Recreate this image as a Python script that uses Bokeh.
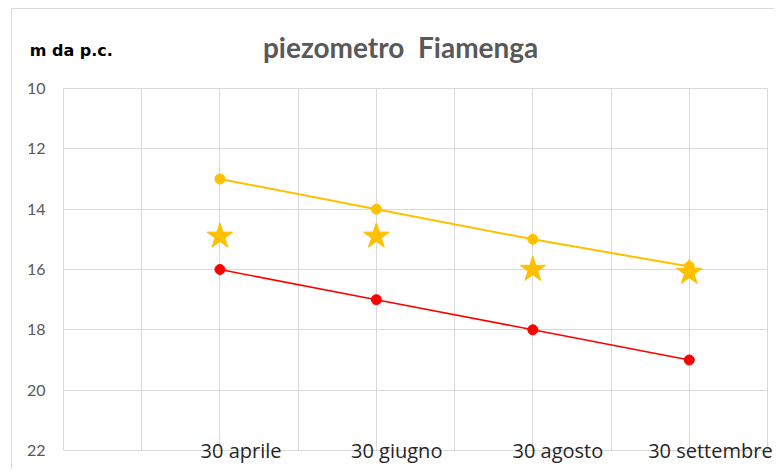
from bokeh.plotting import figure
from bokeh.models import Range1d, FixedTicker, LinearAxis
from bokeh.embed import file_html
from bokeh.resources import INLINE

# ---- data ----
dates = ["30 aprile", "30 giugno", "30 agosto", "30 settembre"]
x_pos = [2, 4, 6, 8]
yellow_vals = [13.0, 14.0, 15.0, 15.9]
star_vals = [14.9, 14.9, 16.0, 16.1]
red_vals = [16.0, 17.0, 18.0, 19.0]
y_ticks = [10, 12, 14, 16, 18, 20, 22]
title_text = "piezometro\u00a0 Fiamenga"
unit_text = "m da p.c."

YELLOW = "#FFC000"
RED = "#FF0000"
GRID = "#d9d9d9"

p = figure(width=763, height=461, output_backend="svg", toolbar_location=None,
           x_range=Range1d(0, 9), y_range=Range1d(22, 10),
           min_border_left=51, min_border_right=8, min_border_top=79, min_border_bottom=20)
p.styles = {"border-top": "1px solid #d9d9d9", "border-left": "1px solid #d9d9d9",
            "margin-left": "11px", "margin-top": "8px"}
p.background_fill_color = "white"
p.border_fill_color = "white"
p.outline_line_color = GRID


def bare(ax):
    ax.axis_line_color = None
    ax.major_tick_line_color = None
    ax.minor_tick_line_color = None
    ax.major_tick_out = 0
    ax.major_tick_in = 0


# x axis: category labels, shifted right of the points as in the reference
label_shift = [0.27, 0.26, 0.32, 0.27]
label_ticks = [x + s for x, s in zip(x_pos, label_shift)]
p.xaxis.ticker = FixedTicker(ticks=label_ticks)
p.xaxis.major_label_overrides = {t: d for t, d in zip(label_ticks, dates)}
bare(p.xaxis[0])
p.xaxis.major_label_standoff = -14
p.xaxis.major_label_text_font = "Open Sans"
p.xaxis.major_label_text_font_size = "20px"
p.xaxis.major_label_text_color = "#262626"

# top axes used for the unit label and the title
unit_tick = 0.10
title_tick = 4.31
ax_unit = LinearAxis(ticker=FixedTicker(ticks=[unit_tick]),
                     major_label_overrides={unit_tick: unit_text})
bare(ax_unit)
ax_unit.major_label_standoff = 29
ax_unit.major_label_text_font = "DejaVu Sans"
ax_unit.major_label_text_font_style = "bold"
ax_unit.major_label_text_font_size = "16px"
ax_unit.major_label_text_color = "#000000"
p.add_layout(ax_unit, "above")

ax_title = LinearAxis(ticker=FixedTicker(ticks=[title_tick]),
                      major_label_overrides={title_tick: title_text})
bare(ax_title)
ax_title.major_label_standoff = -26
ax_title.major_label_text_font = "Lato"
ax_title.major_label_text_font_style = "bold"
ax_title.major_label_text_font_size = "28px"
ax_title.major_label_text_color = "#595959"
p.add_layout(ax_title, "above")

p.xgrid.ticker = FixedTicker(ticks=list(range(0, 10)))
p.xgrid.grid_line_color = GRID
p.yaxis.ticker = FixedTicker(ticks=y_ticks)
p.ygrid.grid_line_color = GRID
bare(p.yaxis[0])
p.yaxis.major_label_standoff = 18
p.yaxis.major_label_text_color = "#595959"
p.yaxis.major_label_text_font = "Lato"
p.yaxis.major_label_text_font_size = "16px"

# series
p.line(x_pos, yellow_vals, line_color=YELLOW, line_width=2)
p.scatter(x_pos, yellow_vals, size=10, color=YELLOW)
p.line(x_pos, red_vals, line_color=RED, line_width=1.6)
p.scatter(x_pos, red_vals, size=10, color=RED)
p.scatter(x_pos, star_vals, marker="star", size=27, color=YELLOW)

open("out.html", "w").write(file_html(p, INLINE))
